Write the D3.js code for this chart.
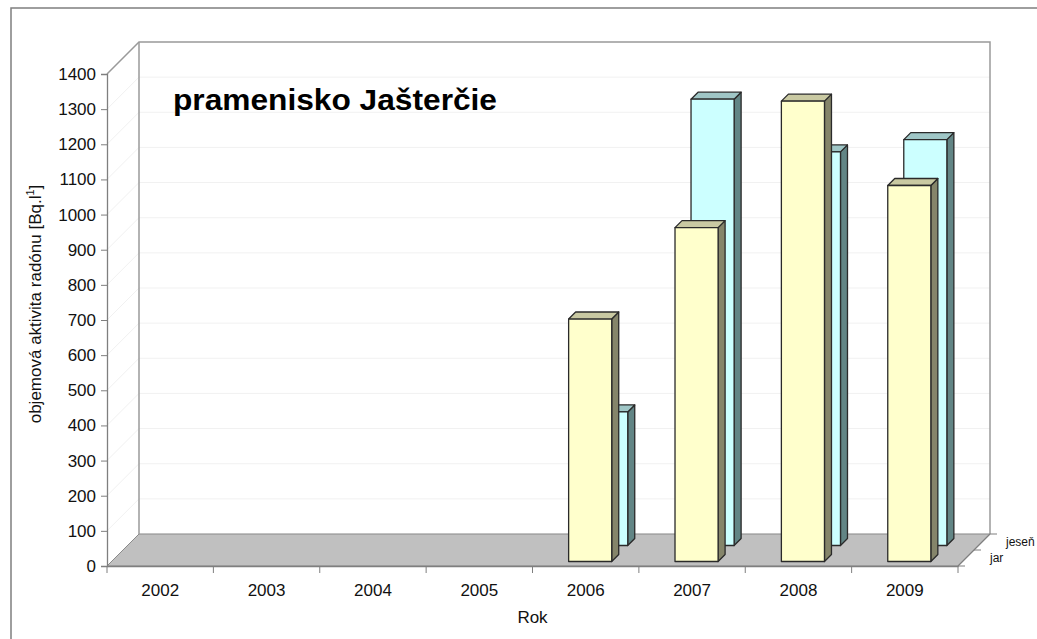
<!DOCTYPE html>
<html>
<head>
<meta charset="utf-8">
<script src="https://cdn.jsdelivr.net/npm/d3@7"></script>
<style>
  html, body { margin: 0; padding: 0; background: #fff; }
  svg { display: block; font-family: "Liberation Sans", Arial, sans-serif; }
</style>
</head>
<body>
<svg id="chart" width="1037" height="639"></svg>
<script>
// Radon volume activity, spring (jar) and autumn (jeseň) measurements
const years = ["2002", "2003", "2004", "2005", "2006", "2007", "2008", "2009"];
const seriesNames = ["jar", "jeseň"];
const jarValues   = [null, null, null, null, 690, 950, 1310, 1070];
const jesenValues = [null, null, null, null, 380, 1270, 1120, 1155];
const yTicks = [0, 100, 200, 300, 400, 500, 600, 700, 800, 900, 1000, 1100, 1200, 1300, 1400];
const titleText = "pramenisko Jašterčie";
const xTitle = "Rok";

const svg = d3.select("#chart");

// front plane of the 3D box
const plotLeft = 107, plotRight = 958, plotBottom = 566, plotTop = 74;
const depthPx = 32;

const x = d3.scaleBand().domain(years).range([plotLeft, plotRight])
  .paddingInner(0.595).paddingOuter(0.2975);
const y = d3.scaleLinear().domain([0, 1400]).range([plotBottom, plotTop]);
const z = d3.scaleBand().domain(seriesNames).range([0, depthPx])
  .paddingInner(0.5625).paddingOuter(0.28);

// oblique projection: depth shifts right and up
const P = (px, py, d) => [px + d, py - d];
const poly = pts => "M" + pts.map(p => p.join(",")).join("L") + "Z";

// outer chart-area frame
svg.append("rect").attr("x", 11).attr("y", 8).attr("width", 1200).attr("height", 800)
  .attr("fill", "none").attr("stroke", "#7f7f7f").attr("stroke-width", 1.5);

const walls = svg.append("g");
// side wall and back wall
walls.append("path")
  .attr("d", poly([P(plotLeft, y(0), 0), P(plotLeft, y(1400), 0), P(plotLeft, y(1400), depthPx), P(plotLeft, y(0), depthPx)]))
  .attr("fill", "#fff");
walls.append("path")
  .attr("d", poly([P(plotLeft, y(0), depthPx), P(plotLeft, y(1400), depthPx), P(plotRight, y(1400), depthPx), P(plotRight, y(0), depthPx)]))
  .attr("fill", "#fff");

// faint gridlines on both walls
yTicks.forEach(t => {
  const a = P(plotLeft, y(t), 0), b = P(plotLeft, y(t), depthPx), c = P(plotRight, y(t), depthPx);
  walls.append("path").attr("d", `M${a}L${b}L${c}`)
    .attr("fill", "none").attr("stroke", "#f1f1f1").attr("stroke-width", 1);
});

// floor
walls.append("path")
  .attr("d", poly([P(plotLeft, y(0), 0), P(plotRight, y(0), 0), P(plotRight, y(0), depthPx), P(plotLeft, y(0), depthPx)]))
  .attr("fill", "#c0c0c0").attr("stroke", "#8a8a8a").attr("stroke-width", 1);

// wall edges
const edge = "#9a9a9a";
walls.append("path")
  .attr("d", `M${P(plotLeft, y(1400), 0)}L${P(plotLeft, y(1400), depthPx)}L${P(plotRight, y(1400), depthPx)}L${P(plotRight, y(0), depthPx)}`)
  .attr("fill", "none").attr("stroke", edge).attr("stroke-width", 1.5);
walls.append("path")
  .attr("d", `M${P(plotLeft, y(0), depthPx)}L${P(plotLeft, y(1400), depthPx)}`)
  .attr("fill", "none").attr("stroke", edge).attr("stroke-width", 1.5);

// bars: back row first, then front row
const styles = {
  "jar":   { front: "#ffffcc", side: "#85856a", top: "#c9c9a2" },
  "jeseň": { front: "#ccffff", side: "#628585", top: "#9fc6c6" }
};
const data = seriesNames.map((s, i) => ({
  name: s,
  values: years.map((yr, j) => ({ year: yr, value: (i === 0 ? jarValues : jesenValues)[j] }))
}));

const barsG = svg.append("g");
[...data].reverse().forEach(series => {
  const st = styles[series.name];
  const d0 = z(series.name), d1 = d0 + z.bandwidth();
  series.values.filter(v => v.value != null).forEach(v => {
    const x0 = x(v.year), x1 = x0 + x.bandwidth();
    const yb = y(0), yTop = y(v.value);
    const g = barsG.append("g").attr("stroke", "#2a2a2a").attr("stroke-width", 1.3)
      .attr("stroke-linejoin", "round");
    g.append("path").attr("fill", st.side)
      .attr("d", poly([P(x1, yb, d0), P(x1, yTop, d0), P(x1, yTop, d1), P(x1, yb, d1)]));
    g.append("path").attr("fill", st.top)
      .attr("d", poly([P(x0, yTop, d0), P(x1, yTop, d0), P(x1, yTop, d1), P(x0, yTop, d1)]));
    g.append("path").attr("fill", st.front)
      .attr("d", poly([P(x0, yb, d0), P(x1, yb, d0), P(x1, yTop, d0), P(x0, yTop, d0)]));
  });
});

// value axis
const yAxis = d3.axisLeft(y).tickValues(yTicks).tickFormat(d3.format("d"))
  .tickSize(6).tickPadding(5);
const yG = svg.append("g").attr("transform", `translate(${plotLeft},0)`).call(yAxis);
// category axis
const xAxis = d3.axisBottom(x).tickSize(0).tickPadding(18);
const xG = svg.append("g").attr("transform", `translate(0,${plotBottom})`).call(xAxis);
xG.selectAll(".tick text").attr("dy", "0.71em");
// category boundary ticks
const bounds = years.map(yr => x(yr) - x.step() * x.paddingInner() / 2).concat([plotRight]);
xG.selectAll(".bound").data(bounds).join("line").attr("class", "bound")
  .attr("x1", d => d).attr("x2", d => d).attr("y1", 0).attr("y2", 7)
  .attr("stroke", "#7f7f7f");

[yG, xG].forEach(g => {
  g.select(".domain").attr("stroke", "#7f7f7f").attr("stroke-width", 1.3);
  g.selectAll(".tick line").attr("stroke", "#7f7f7f");
  g.selectAll(".tick text").attr("font-size", 17).attr("fill", "#111")
    .attr("font-family", "'Liberation Sans', Arial, sans-serif");
});

// depth (series) axis along the right floor edge
const dG = svg.append("g");
dG.append("path").attr("d", `M${P(plotRight, y(0), 0)}L${P(plotRight, y(0), depthPx)}`)
  .attr("stroke", "#7f7f7f").attr("stroke-width", 1.3);
[0, depthPx / 2, depthPx].forEach(d => {
  const p = P(plotRight, y(0), d);
  dG.append("line").attr("x1", p[0]).attr("y1", p[1]).attr("x2", p[0] + 7).attr("y2", p[1])
    .attr("stroke", "#7f7f7f");
});
seriesNames.forEach(s => {
  const p = P(plotRight, y(0), z(s) + z.bandwidth() / 2);
  dG.append("text").attr("x", p[0] + 24).attr("y", p[1] + 4)
    .attr("font-size", 12).attr("fill", "#111").text(s);
});

// titles
svg.append("text").attr("x", 173).attr("y", 110)
  .attr("font-size", 29).attr("font-weight", "bold").attr("fill", "#000")
  .attr("textLength", 324).attr("lengthAdjust", "spacingAndGlyphs").text(titleText);
svg.append("text").attr("x", (plotLeft + plotRight) / 2).attr("y", 623)
  .attr("text-anchor", "middle").attr("font-size", 17).attr("fill", "#111").text(xTitle);
const yTitle = svg.append("text").attr("transform", "translate(41,304) rotate(-90)")
  .attr("text-anchor", "middle").attr("font-size", 17).attr("fill", "#111");
yTitle.append("tspan").text("objemová aktivita radónu [Bq.l");
yTitle.append("tspan").attr("font-size", 11).attr("dy", -7).text("1");
yTitle.append("tspan").attr("dy", 7).text("]");
</script>
</body>
</html>
